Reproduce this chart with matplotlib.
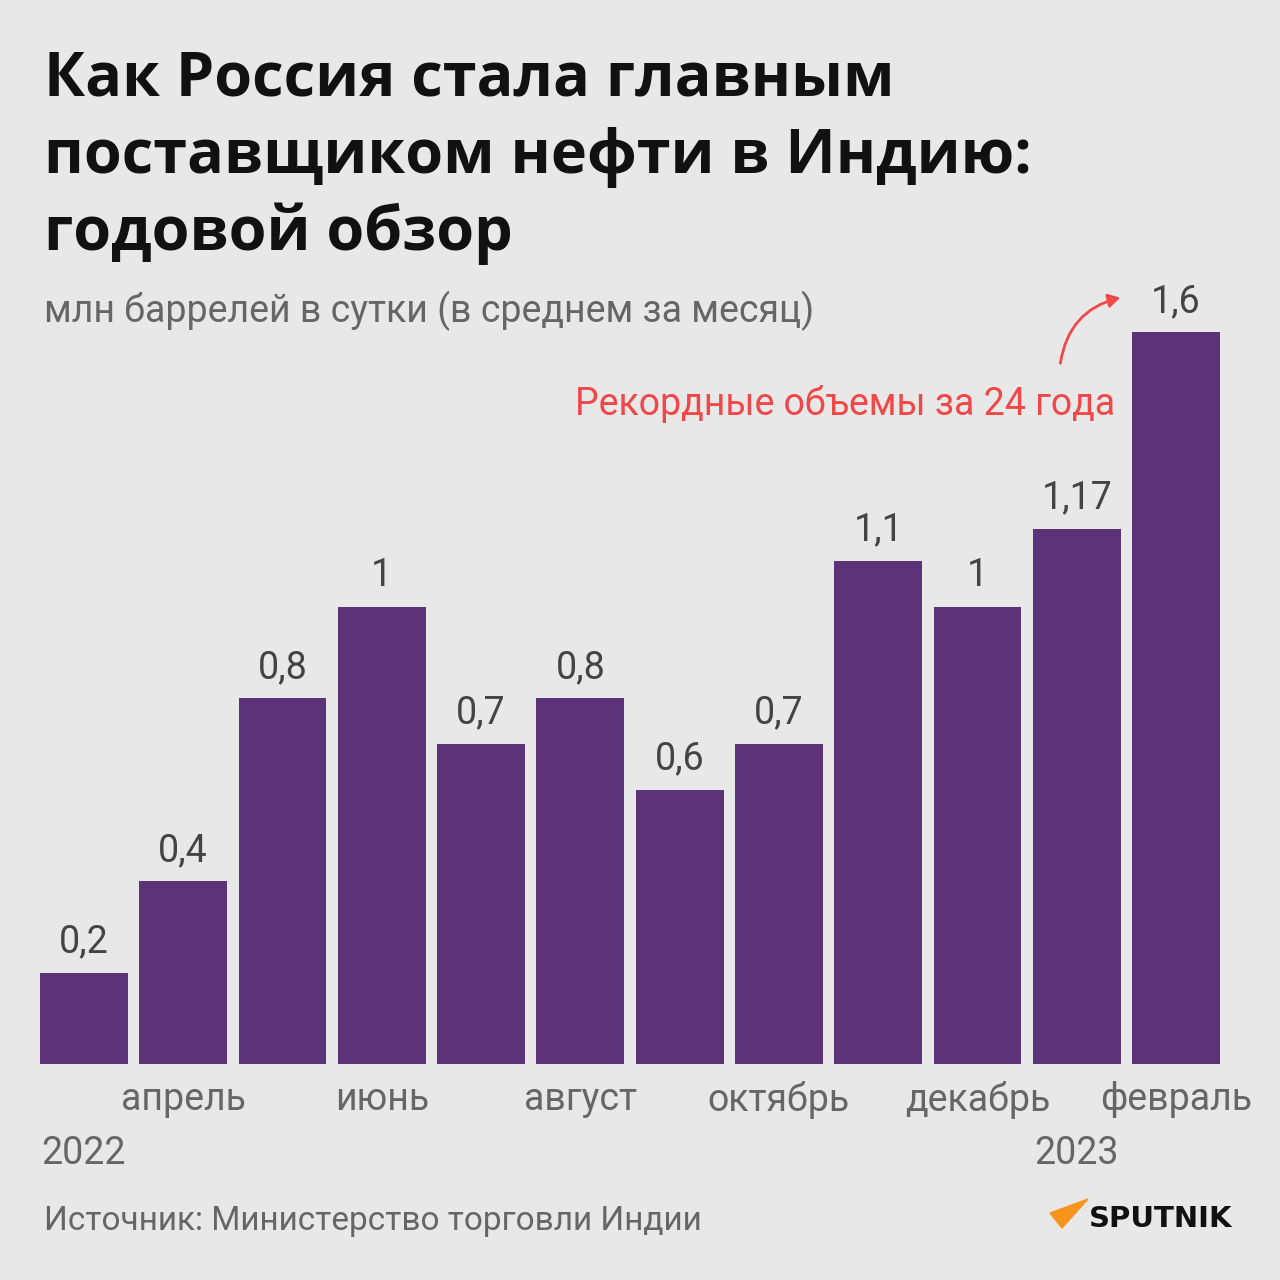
import matplotlib.pyplot as plt
import matplotlib.transforms as mtransforms
from matplotlib.patches import Polygon, FancyArrowPatch

# data
months = ['март', 'апрель', 'май', 'июнь', 'июль', 'август', 'сентябрь',
          'октябрь', 'ноябрь', 'декабрь', 'январь', 'февраль']
values = [0.2, 0.4, 0.8, 1.0, 0.7, 0.8, 0.6, 0.7, 1.1, 1.0, 1.17, 1.6]
value_labels = ['0,2', '0,4', '0,8', '1', '0,7', '0,8', '0,6', '0,7', '1,1', '1', '1,17', '1,6']
shown_months = ['', 'апрель', '', 'июнь', '', 'август', '', 'октябрь', '', 'декабрь', '', 'февраль']
years = {0: '2022', 10: '2023'}
title_lines = ['Как Россия стала главным', 'поставщиком нефти в Индию:', 'годовой обзор']

BG = '#e8e8e8'
BAR = '#5c3278'
GREY = '#666666'
DARK = '#444444'
RED = '#f04848'

plt.rcParams['font.family'] = ['Roboto', 'DejaVu Sans']

W = H = 1280
fig = plt.figure(figsize=(12.8, 12.8), dpi=100, facecolor=BG)

def fx(px):
    return px / W

def fy(py):
    return 1 - py / H

# axes: bars from x=40 to 1220, baseline at y=1064, 1.6 top at y=332
ax = fig.add_axes([fx(40), fy(1064), fx(1180), (1064 - 332) / H])
ax.set_facecolor(BG)
x = list(range(len(values)))
ax.bar(x, values, width=0.885, color=BAR)
ax.set_xlim(-0.4425, len(values) - 1 + 0.4425)
ax.set_ylim(0, 1.6)
for s in ax.spines.values():
    s.set_visible(False)
ax.set_yticks([])
ax.set_xticks(x, shown_months)
ax.tick_params(axis='x', length=0, pad=12, labelsize=27, labelcolor=GREY)

# value labels above bars
for i, (v, lab) in enumerate(zip(values, value_labels)):
    ax.annotate(lab, xy=(i, v), xytext=(0, 22), textcoords='offset points',
                ha='center', va='center', fontsize=27, color=DARK)

# year labels under the month row
trans = mtransforms.blended_transform_factory(ax.transData, ax.transAxes)
for i, yr in years.items():
    ax.text(i, -(1153 - 1064) / 732, yr, transform=trans, ha='center', va='center',
            fontsize=27, color=GREY)

# title and subtitle
for k, line in enumerate(title_lines):
    fig.text(fx(44), fy(80 + 77 * k), line, ha='left', va='center', fontsize=44,
             fontweight='bold', color='#111111', family=['Open Sans', 'DejaVu Sans'])
fig.text(fx(44), fy(311), 'млн баррелей в сутки (в среднем за месяц)',
         ha='left', va='center', fontsize=27, color=GREY)

# annotation
fig.text(fx(1115), fy(404), 'Рекордные объемы за 24 года', ha='right', va='center',
         fontsize=27, color=RED)
arrow = FancyArrowPatch((fx(1060), fy(366)), (fx(1123), fy(297)),
                        transform=fig.transFigure, connectionstyle='arc3,rad=-0.35',
                        arrowstyle='-|>,head_length=7,head_width=4', color=RED, lw=2)
fig.add_artist(arrow)

# source
fig.text(fx(44), fy(1221), 'Источник: Министерство торговли Индии',
         ha='left', va='center', fontsize=24, color=GREY)

# logo
tri = Polygon([(fx(1050), fy(1213)), (fx(1088), fy(1199)), (fx(1062), fy(1228))],
              closed=True, transform=fig.transFigure, color='#f7941d')
fig.add_artist(tri)
fig.text(fx(1089), fy(1219), 'SPUTNIK', ha='left', va='center', fontsize=21,
         fontweight='bold', color='#111111', family=['DejaVu Sans'])

fig.savefig('out.png', dpi=100, facecolor=BG)
